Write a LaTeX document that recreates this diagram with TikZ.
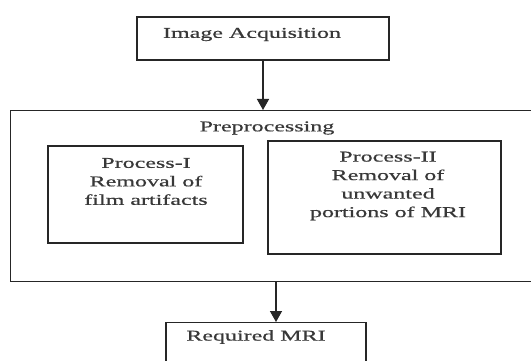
\documentclass[tikz,border=0pt]{standalone}
\usepackage{fontspec}
\setmainfont{Liberation Serif}[FakeStretch=1.6,FakeBold=0.6]
\usetikzlibrary{arrows.meta}
\begin{document}
\begin{tikzpicture}[x=1pt,y=-1pt,
  frame/.style={draw=black!85,line width=1.4pt,rectangle,inner sep=0pt},
  txt/.style={font=\fontsize{15}{18.5}\selectfont,text=black!78,align=center,inner sep=0pt},
  arr/.style={line width=1.4pt,draw=black!85,-{Triangle[length=11pt,width=12pt]}}]
\useasboundingbox (0,0) rectangle (531,361);
\clip (0,0) rectangle (531,361);
\fill[white] (0,0) rectangle (531,361);
% Image Acquisition
\node[frame,minimum width=252pt,minimum height=43pt] (acq) at (263,38.5) {};
\node[txt] (acqt) at (252,34.5) {Image Acquisition};
% Preprocessing big box
\node[frame,anchor=north west,minimum width=530pt,minimum height=171pt] (pre) at (10,110) {};
\node[txt] (pret) at (267,128) {Preprocessing};
% Process I
\node[frame,minimum width=195pt,minimum height=97pt] (p1) at (145.5,194.5) {};
\node[txt] (p1t) at (146,181.5) {Process-I\\Removal of\\film artifacts};
% Process II
\node[frame,minimum width=233pt,minimum height=113pt] (p2) at (384.5,197.5) {};
\node[txt] (p2t) at (388,186) {Process-II\\Removal of\\unwanted\\portions of MRI};
% Required MRI
\node[frame,anchor=north,minimum width=200pt,minimum height=50pt] (req) at (266,322) {};
\node[txt] (reqt) at (256,337) {Required MRI};
% arrows
\draw[arr] (acq.south) -- (acq.south |- pre.north);
\coordinate (preout) at (276,281);
\draw[arr] (preout) -- (preout |- req.north);
\end{tikzpicture}
\end{document}
